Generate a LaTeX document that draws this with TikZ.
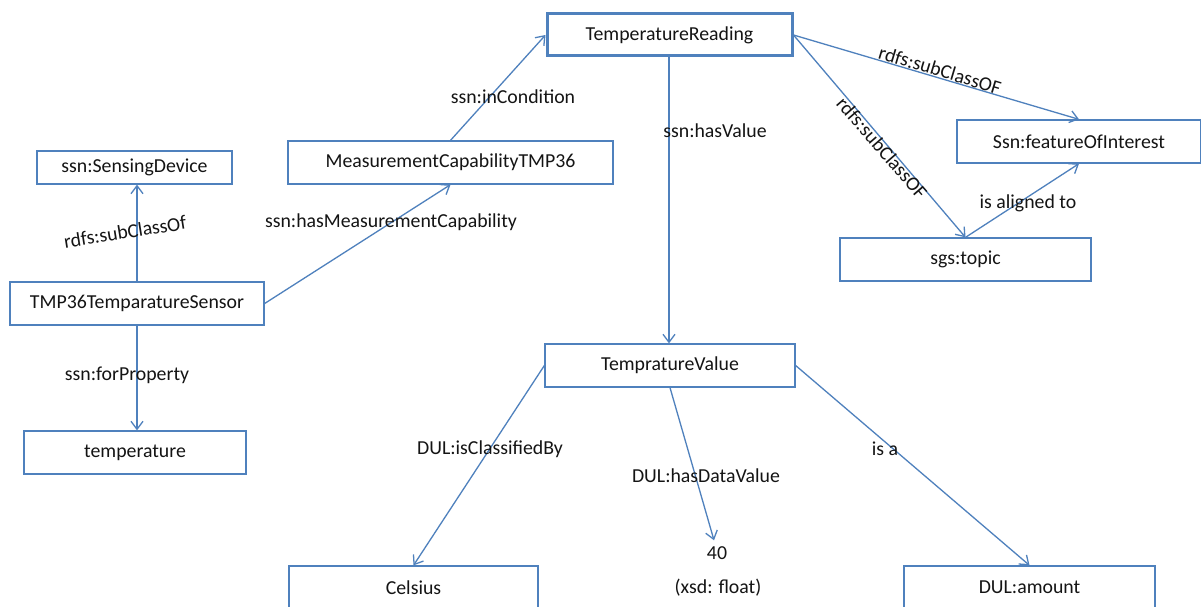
\documentclass[tikz,border=0pt]{standalone}
\usepackage{fontspec}
\setmainfont{Carlito}
\usetikzlibrary{arrows.meta}
\definecolor{edgeblue}{RGB}{79,129,189}
\definecolor{txt}{RGB}{20,20,20}
\begin{document}
\begin{tikzpicture}[x=1pt,y=-1pt,
  font=\fontsize{19.8}{23}\selectfont,
  box/.style={draw=edgeblue,line width=1.3pt,fill=white,text=txt,inner sep=0pt},
  lbl/.style={text=txt,inner sep=0pt},
  conn/.style={draw=edgeblue,line width=1.3pt,-{Straight Barb[length=8pt,width=12pt]}}]
\useasboundingbox (0,0) rectangle (1201,607);
\clip (0,0) rectangle (1201,607);
\fill[white] (0,0) rectangle (1201,607);
% nodes
\node[box,line width=3pt,minimum width=245pt,minimum height=42pt] (TR) at (669.5,35) {TemperatureReading};
\node[box,minimum width=325pt,minimum height=43pt] (MC) at (450.5,162.5) {MeasurementCapabilityTMP36};
\node[box,minimum width=195pt,minimum height=33pt] (SD) at (134.5,167.5) {ssn:SensingDevice};
\node[box,minimum width=254pt,minimum height=43pt] (TS) at (137,303.5) {TMP36TemparatureSensor};
\node[box,minimum width=222pt,minimum height=43pt] (TP) at (135,452.5) {temperature};
\node[box,minimum width=244pt,minimum height=43pt] (FOI) at (1079,141.5) {Ssn:featureOfInterest};
\node[box,minimum width=251pt,minimum height=43pt] (TO) at (965.5,259.5) {sgs:topic};
\node[box,minimum width=250pt,minimum height=43pt] (TV) at (670,365.5) {TempratureValue};
\node[box,minimum width=249pt,minimum height=43pt] (CE) at (413.5,587.5) {Celsius};
\node[box,minimum width=251pt,minimum height=43pt] (AM) at (1029.5,587.5) {DUL:amount};
\node[lbl] (FT) at (717,553) {40};
\node[lbl] (XF) at (718,588) {(xsd: float)};
% connectors
\draw[conn] (TS.north) -- (TS.north |- SD.south);
\draw[conn] (TS.south) -- (TS.south |- TP.north);
\draw[conn] (TS.east) -- (MC.south);
\draw[conn] (MC.north) -- (TR.west);
\draw[conn] ([xshift=-0.5pt]TR.south) -- ([xshift=-0.5pt]TR.south |- TV.north);
\draw[conn] (TR.east) -- (FOI.north);
\draw[conn] (TR.east) -- (TO.north);
\draw[conn] (TO.north) -- (FOI.south);
\draw[conn] (TV.west) -- (CE.north);
\draw[conn] (TV.south) -- ([xshift=-3pt,yshift=6pt]FT.north);
\draw[conn] (TV.east) -- (AM.north);
% labels
\node[lbl,rotate=9] (L1) at (125,232) {rdfs:subClassOf};
\node[lbl] (L2) at (127,375) {ssn:forProperty};
\node[lbl] (L3) at (391,222) {ssn:hasMeasurementCapability};
\node[lbl] (L4) at (513,97) {ssn:inCondition};
\node[lbl] (L5) at (715,131) {ssn:hasValue};
\node[lbl,rotate=-16.7] (L6) at (940,70) {rdfs:subClassOF};
\node[lbl,rotate=-49] (L7) at (882,148) {rdfs:subClassOF};
\node[lbl] (L8) at (1028,203) {is aligned to};
\node[lbl] (L9) at (490,449) {DUL:isClassifiedBy};
\node[lbl] (L10) at (706,476) {DUL:hasDataValue};
\node[lbl] (L11) at (885,449) {is a};
\end{tikzpicture}
\end{document}
